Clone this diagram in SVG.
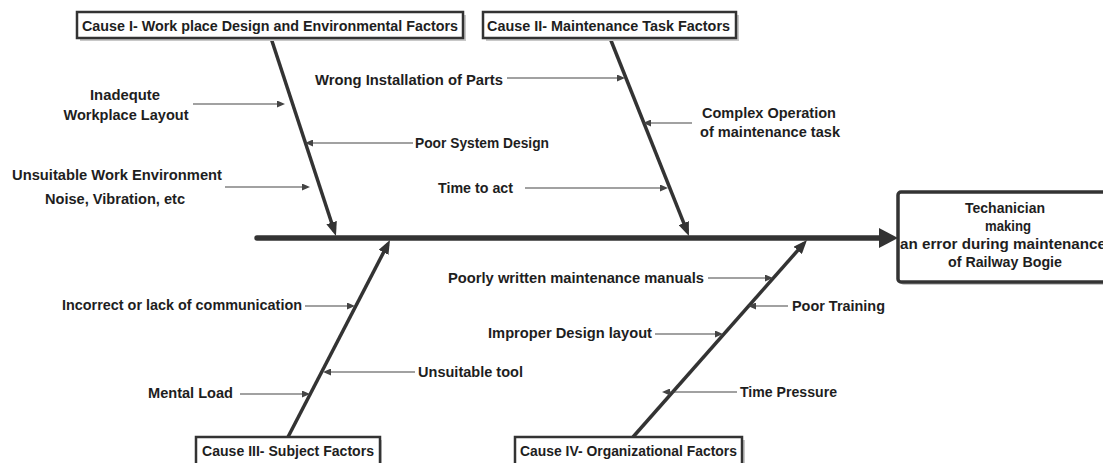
<svg xmlns="http://www.w3.org/2000/svg" width="1103" height="463" viewBox="0 0 1103 463">
<style>
  text { font-family: "Liberation Sans", Arial, sans-serif; font-weight: bold; font-size: 15px; fill: #1e1e1e; }
  .box { fill: #ffffff; stroke: #333333; stroke-width: 2.5; }
  .shadow { fill: #c8c8c8; }
  .bone { stroke: #333333; stroke-width: 3.5; fill: none; marker-end: url(#bigArrow); }
  .sub { stroke: #444444; stroke-width: 1.2; fill: none; marker-end: url(#smallArrow); }
  .mid { text-anchor: middle; }
</style>
<defs>
  <marker id="bigArrow" markerUnits="userSpaceOnUse" markerWidth="14" markerHeight="11" refX="9" refY="5.5" orient="auto">
    <path d="M0,0 L14,5.5 L0,11 z" fill="#333333"/>
  </marker>
  <marker id="smallArrow" markerUnits="userSpaceOnUse" markerWidth="8" markerHeight="7" refX="6" refY="3.5" orient="auto">
    <path d="M0,0 L8,3.5 L0,7 z" fill="#444444"/>
  </marker>
</defs>
<rect width="1103" height="463" fill="#ffffff"/>

<g id="connectors">
  <line x1="257" y1="238" x2="882" y2="238" stroke="#333333" stroke-width="5.5" stroke-linecap="round"/>
  <polygon points="879,228 898,238 879,248" fill="#333333"/>
  <line class="bone" x1="271" y1="38" x2="334.4" y2="231.2"/>
  <line class="bone" x1="610" y1="38" x2="687.1" y2="231.4"/>
  <line class="bone" x1="288" y1="437" x2="387.7" y2="244.4"/>
  <line class="bone" x1="633" y1="437" x2="803.7" y2="243.7"/>
  <line class="sub" x1="193" y1="104" x2="283" y2="104"/>
  <line class="sub" x1="413" y1="143" x2="307" y2="143"/>
  <line class="sub" x1="225" y1="187" x2="308" y2="187"/>
  <line class="sub" x1="507" y1="78" x2="623" y2="78"/>
  <line class="sub" x1="692" y1="123" x2="645" y2="123"/>
  <line class="sub" x1="525" y1="188" x2="666" y2="188"/>
  <line class="sub" x1="305" y1="306" x2="353" y2="306"/>
  <line class="sub" x1="415" y1="372" x2="325" y2="372"/>
  <line class="sub" x1="240" y1="394" x2="308" y2="394"/>
  <line class="sub" x1="708" y1="278" x2="771" y2="278"/>
  <line class="sub" x1="788" y1="306" x2="750" y2="306"/>
  <line class="sub" x1="655" y1="334" x2="721" y2="334"/>
  <line class="sub" x1="737" y1="392" x2="664" y2="392"/>
</g>

<g id="cause1">
  <rect class="shadow" x="80" y="15" width="386" height="26"/>
  <rect class="box" x="77" y="12" width="386" height="26"/>
  <text x="82" y="30.5" textLength="376" lengthAdjust="spacingAndGlyphs">Cause I- Work place Design and Environmental Factors</text>
</g>
<g id="cause2">
  <rect class="shadow" x="486" y="15" width="253" height="26"/>
  <rect class="box" x="483" y="12" width="253" height="26"/>
  <text x="487" y="30.5" textLength="243" lengthAdjust="spacingAndGlyphs">Cause II- Maintenance Task Factors</text>
</g>
<g id="cause3">
  <rect class="shadow" x="199" y="440" width="183" height="30"/>
  <rect class="box" x="196" y="437" width="184" height="30"/>
  <text x="202" y="456" textLength="172" lengthAdjust="spacingAndGlyphs">Cause III- Subject Factors</text>
</g>
<g id="cause4">
  <rect class="shadow" x="518" y="440" width="227" height="30"/>
  <rect class="box" x="515" y="437" width="227" height="30"/>
  <text x="520" y="456" textLength="217" lengthAdjust="spacingAndGlyphs">Cause IV- Organizational Factors</text>
</g>

<g id="effect">
  <rect x="901" y="195" width="220" height="90" rx="3" fill="#c8c8c8"/>
  <rect x="898" y="192" width="220" height="90" rx="3" fill="#ffffff" stroke="#333333" stroke-width="3.5"/>
  <text class="mid" x="1005" y="213" textLength="80" lengthAdjust="spacingAndGlyphs">Techanician</text>
  <text class="mid" x="1008" y="231" textLength="46" lengthAdjust="spacingAndGlyphs">making</text>
  <text class="mid" x="1003" y="249" textLength="206" lengthAdjust="spacingAndGlyphs">an error during maintenance</text>
  <text class="mid" x="1005" y="267" textLength="114" lengthAdjust="spacingAndGlyphs">of Railway Bogie</text>
</g>

<g id="c1-inadequate">
  <text class="mid" x="125" y="100" textLength="70" lengthAdjust="spacingAndGlyphs">Inadequte</text>
  <text class="mid" x="126" y="120" textLength="125" lengthAdjust="spacingAndGlyphs">Workplace Layout</text>
</g>
<g id="c1-poor-system">
  <text x="415" y="148" textLength="134" lengthAdjust="spacingAndGlyphs">Poor System Design</text>
</g>
<g id="c1-unsuitable-env">
  <text x="12" y="180" textLength="210" lengthAdjust="spacingAndGlyphs">Unsuitable Work Environment</text>
  <text x="45" y="204" textLength="140" lengthAdjust="spacingAndGlyphs">Noise, Vibration, etc</text>
</g>
<g id="c2-wrong-install">
  <text x="315" y="85" textLength="188" lengthAdjust="spacingAndGlyphs">Wrong Installation of Parts</text>
</g>
<g id="c2-complex">
  <text x="702" y="118" textLength="134" lengthAdjust="spacingAndGlyphs">Complex Operation</text>
  <text x="700" y="137" textLength="140" lengthAdjust="spacingAndGlyphs">of maintenance task</text>
</g>
<g id="c2-time-to-act">
  <text x="438" y="193" textLength="75" lengthAdjust="spacingAndGlyphs">Time to act</text>
</g>
<g id="c3-communication">
  <text x="62" y="310" textLength="240" lengthAdjust="spacingAndGlyphs">Incorrect or lack of communication</text>
</g>
<g id="c3-tool">
  <text x="418" y="377" textLength="105" lengthAdjust="spacingAndGlyphs">Unsuitable tool</text>
</g>
<g id="c3-mental">
  <text x="148" y="398" textLength="85" lengthAdjust="spacingAndGlyphs">Mental Load</text>
</g>
<g id="c4-manuals">
  <text x="448" y="283" textLength="256" lengthAdjust="spacingAndGlyphs">Poorly written maintenance manuals</text>
</g>
<g id="c4-training">
  <text x="792" y="311" textLength="93" lengthAdjust="spacingAndGlyphs">Poor Training</text>
</g>
<g id="c4-design">
  <text x="488" y="338" textLength="164" lengthAdjust="spacingAndGlyphs">Improper Design layout</text>
</g>
<g id="c4-pressure">
  <text x="740" y="397" textLength="97" lengthAdjust="spacingAndGlyphs">Time Pressure</text>
</g>
</svg>
